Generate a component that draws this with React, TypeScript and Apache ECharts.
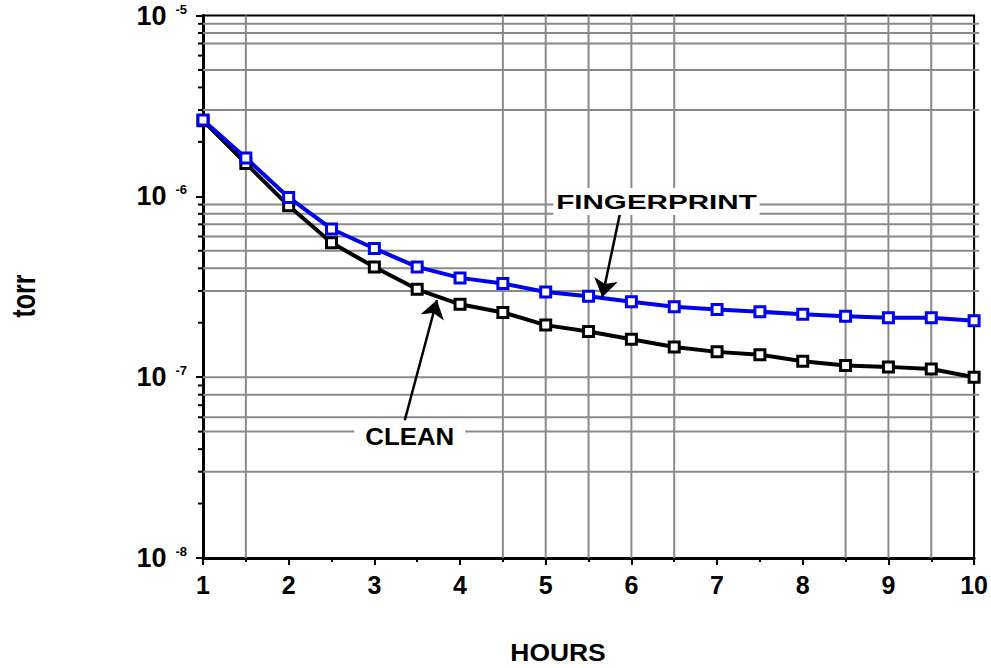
import React, { useEffect, useRef } from 'react';
import * as echarts from 'echarts';

const FONT = '"Liberation Sans", Arial, sans-serif';

// x values (hours)
const HOURS = [1, 1.5, 2, 2.5, 3, 3.5, 4, 4.5, 5, 5.5, 6, 6.5, 7, 7.5, 8, 8.5, 9, 9.5, 10];
// pressure in torr
const FINGERPRINT = [2.64e-6, 1.63e-6, 9.86e-7, 6.6e-7, 5.15e-7, 4.07e-7, 3.54e-7, 3.3e-7, 2.96e-7, 2.8e-7, 2.61e-7, 2.45e-7, 2.37e-7, 2.3e-7, 2.23e-7, 2.17e-7, 2.13e-7, 2.13e-7, 2.05e-7];
const CLEAN = [2.62e-6, 1.52e-6, 8.86e-7, 5.53e-7, 4.07e-7, 3.06e-7, 2.53e-7, 2.28e-7, 1.94e-7, 1.79e-7, 1.62e-7, 1.47e-7, 1.38e-7, 1.33e-7, 1.225e-7, 1.16e-7, 1.14e-7, 1.11e-7, 1.0e-7];

const X_MIN = 1;
const X_MAX = 10;
const Y_MIN = 1e-8;
const Y_MAX = 1e-5;

// irregular grid lines as drawn in the reference
const H_GRID = [9e-6, 8e-6, 7e-6, 5e-6, 3e-6, 9e-7, 8e-7, 7e-7, 6e-7, 5e-7, 4e-7, 3e-7, 1e-7, 8e-8, 6e-8, 5e-8, 3e-8];
const V_GRID = [1.5, 4.5, 5, 5.5, 6, 6.5, 8.5, 9, 9.5];

// minor ticks on the log axis
const Y_MINOR = [
  2e-8, 3e-8, 4e-8, 5e-8, 6e-8, 7e-8, 8e-8, 9e-8,
  2e-7, 3e-7, 4e-7, 5e-7, 6e-7, 7e-7, 8e-7, 9e-7,
  2e-6, 3e-6, 4e-6, 5e-6, 6e-6, 7e-6, 8e-6, 9e-6,
];

// annotations (data coordinates)
const FP_LABEL_AT = [6.293, 9.36e-7];
const FP_ARROW = [[5.87, 8.17e-7], [5.66, 2.77e-7]];
const CLEAN_LABEL_AT = [3.413, 4.69e-8];
const CLEAN_ARROW = [[3.355, 5.78e-8], [3.73, 2.67e-7]];

const GRID_COLOR = '#8a8a8a';

export default function App() {
  const ref = useRef<HTMLDivElement>(null);

  useEffect(() => {
    if (!ref.current) return;
    const chart = echarts.init(ref.current, null, { renderer: 'svg' });

    const option: any = {
      animation: false,
      grid: {
        left: 203,
        right: 16,
        top: 15.5,
        bottom: 110,
        show: true,
        borderColor: '#000',
        borderWidth: 2,
        backgroundColor: 'transparent',
      },
      xAxis: {
        type: 'value',
        min: X_MIN,
        max: X_MAX,
        interval: 1,
        axisLine: { show: true, onZero: false, lineStyle: { color: '#000', width: 3 } },
        axisTick: { show: true, length: 7, lineStyle: { color: '#000', width: 2 } },
        minorTick: { show: true, splitNumber: 2, length: 4, lineStyle: { color: '#000', width: 2 } },
        splitLine: { show: false },
        minorSplitLine: { show: false },
        axisLabel: {
          fontSize: 25,
          fontWeight: 'bold',
          fontFamily: FONT,
          color: '#000',
          margin: 14,
        },
      },
      yAxis: {
        type: 'log',
        logBase: 10,
        min: Y_MIN,
        max: Y_MAX,
        splitNumber: 3,
        axisLine: { show: true, onZero: false, lineStyle: { color: '#000', width: 3 } },
        axisTick: { show: true, length: 7, lineStyle: { color: '#000', width: 2 } },
        splitLine: { show: false },
        axisLabel: {
          margin: 16,
          formatter: (v: number) => `{b|10}{s|${Math.round(Math.log10(v))}}`,
          rich: {
            b: { fontSize: 27, fontWeight: 'bold', fontFamily: FONT, color: '#000', lineHeight: 26 },
            s: {
              fontSize: 13,
              fontWeight: 'bold',
              fontFamily: FONT,
              color: '#000',
              verticalAlign: 'top',
              lineHeight: 12,
              padding: [0, 0, 0, 9],
            },
          },
        },
      },
      series: [
        {
          type: 'custom',
          name: 'hGrid',
          silent: true,
          z: 1,
          data: H_GRID.map((v) => [X_MIN, v]),
          renderItem: (params: any, api: any) => {
            const v = api.value(1);
            const a = api.coord([X_MIN, v]);
            const b = api.coord([X_MAX, v]);
            return {
              type: 'line',
              shape: { x1: a[0], y1: a[1], x2: b[0] + 5, y2: b[1] },
              style: { stroke: GRID_COLOR, lineWidth: 2 },
            };
          },
        },
        {
          type: 'custom',
          name: 'vGrid',
          silent: true,
          z: 1,
          data: V_GRID.map((v) => [v, Y_MIN]),
          renderItem: (params: any, api: any) => {
            const v = api.value(0);
            const a = api.coord([v, Y_MIN]);
            const b = api.coord([v, Y_MAX]);
            return {
              type: 'line',
              shape: { x1: a[0], y1: a[1], x2: b[0], y2: b[1] },
              style: { stroke: GRID_COLOR, lineWidth: 2 },
            };
          },
        },
        {
          type: 'custom',
          name: 'yMinorTicks',
          silent: true,
          z: 4,
          data: Y_MINOR.map((v) => [X_MIN, v]),
          renderItem: (params: any, api: any) => {
            const p = api.coord([api.value(0), api.value(1)]);
            return {
              type: 'line',
              shape: { x1: p[0] - 5, y1: p[1], x2: p[0], y2: p[1] },
              style: { stroke: '#000', lineWidth: 2 },
            };
          },
        },
        {
          type: 'line',
          name: 'CLEAN',
          data: HOURS.map((h, i) => [h, CLEAN[i]]),
          symbol: 'rect',
          symbolSize: 10,
          z: 3,
          lineStyle: { color: '#000', width: 4 },
          itemStyle: { color: '#fff', borderColor: '#000', borderWidth: 3 },
        },
        {
          type: 'line',
          name: 'FINGERPRINT',
          data: HOURS.map((h, i) => [h, FINGERPRINT[i]]),
          symbol: 'rect',
          symbolSize: 10,
          z: 3,
          lineStyle: { color: '#0000ee', width: 4 },
          itemStyle: { color: '#fff', borderColor: '#0000ee', borderWidth: 3 },
        },
        {
          type: 'line',
          name: 'arrows',
          data: [],
          z: 6,
          silent: true,
          markLine: {
            silent: true,
            symbol: ['none', 'arrow'],
            symbolSize: 18,
            label: { show: false },
            lineStyle: { color: '#000', width: 2.5, type: 'solid' },
            emphasis: { disabled: true },
            data: [
              [{ coord: FP_ARROW[0] }, { coord: FP_ARROW[1] }],
              [{ coord: CLEAN_ARROW[0] }, { coord: CLEAN_ARROW[1] }],
            ],
          },
        },
      ],
    };

    chart.setOption(option);

    const fp = chart.convertToPixel({ gridIndex: 0 }, FP_LABEL_AT) as number[];
    const cl = chart.convertToPixel({ gridIndex: 0 }, CLEAN_LABEL_AT) as number[];

    chart.setOption({
      graphic: [
        {
          type: 'text',
          x: fp[0],
          y: fp[1],
          scaleX: 1.41,
          z: 5,
          style: {
            text: 'FINGERPRINT',
            fontSize: 21,
            fontWeight: 'bold',
            fontFamily: FONT,
            fill: '#000',
            align: 'center',
            verticalAlign: 'middle',
            textAlign: 'center',
            textVerticalAlign: 'middle',
            backgroundColor: '#fff',
            padding: [3, 2, 3, 2],
          },
        },
        {
          type: 'text',
          x: cl[0],
          y: cl[1],
          scaleX: 1.1,
          z: 5,
          style: {
            text: 'CLEAN',
            fontSize: 23.5,
            fontWeight: 'bold',
            fontFamily: FONT,
            fill: '#000',
            align: 'center',
            verticalAlign: 'middle',
            textAlign: 'center',
            textVerticalAlign: 'middle',
            backgroundColor: '#fff',
            padding: [3, 10, 3, 10],
          },
        },
        {
          type: 'text',
          x: 558,
          y: 652,
          scaleX: 1.1,
          style: {
            text: 'HOURS',
            fontSize: 24,
            fontWeight: 'bold',
            fontFamily: FONT,
            fill: '#000',
            align: 'center',
            verticalAlign: 'middle',
            textAlign: 'center',
            textVerticalAlign: 'middle',
          },
        },
        {
          type: 'text',
          x: 24,
          y: 296,
          rotation: Math.PI / 2,
          scaleY: 1.3,
          style: {
            text: 'torr',
            fontSize: 25,
            fontWeight: 'bold',
            fontFamily: FONT,
            fill: '#000',
            align: 'center',
            verticalAlign: 'middle',
            textAlign: 'center',
            textVerticalAlign: 'middle',
          },
        },
      ],
    });

    return () => {
      chart.dispose();
    };
  }, []);

  return (
    <div
      ref={ref}
      style={{ position: 'fixed', left: 0, top: 0, width: 991, height: 668, background: '#fff' }}
    />
  );
}
